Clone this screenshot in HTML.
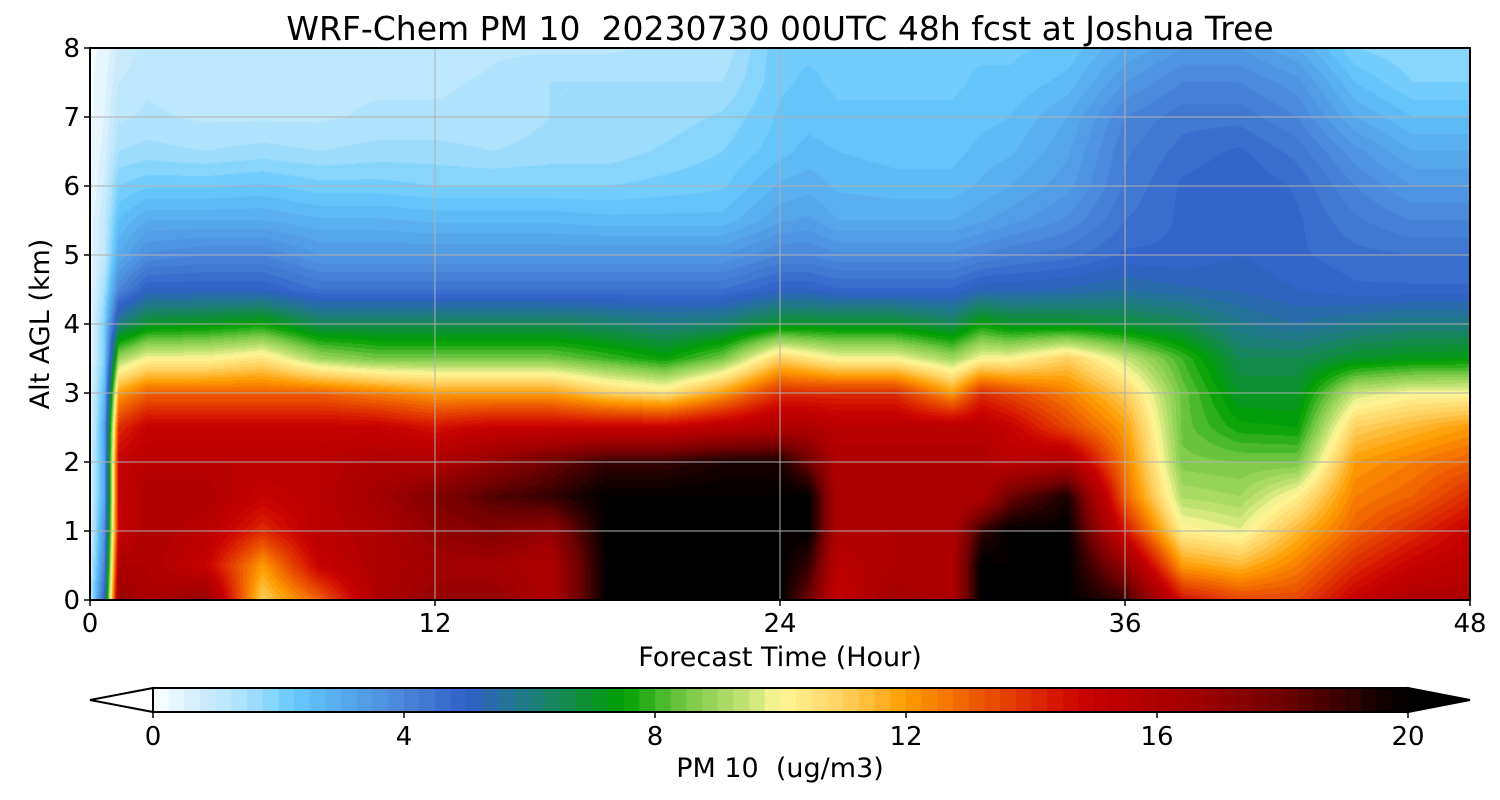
<!DOCTYPE html>
<html><head><meta charset="utf-8"><style>
body{margin:0;background:#fff;width:1500px;height:800px;overflow:hidden;position:relative;font-family:"DejaVu Sans","Liberation Sans",sans-serif}
canvas{position:absolute}
svg{position:absolute;left:0;top:0}
</style></head><body>
<canvas id="plot" width="1380" height="552" style="left:90px;top:48px"></canvas>
<canvas id="cbar" width="1255" height="24" style="left:153px;top:688px"></canvas>
<svg id="ov" width="1500" height="800"></svg>
<script>
const times=[0,0.5,1,2,4,6,8,10,12,14,16,18,20,22,24,25,26,28,30,31,32,34,36,38,40,42,44,46,48];
const heights=[0,0.5,1,1.5,2,2.5,3,3.5,4,4.5,5,5.5,6,6.5,7,7.5,8];
const pm=[
[1,0.8,0.6,0.5,0.5,0.4,0.4,0.3,0.3,0.3,0.3,0.3,0.2,0.2,0.2,0.2,0.2],
[5,4,3.5,3,3,3,2.5,2,2,1.5,1,1,0.8,0.6,0.5,0.4,0.3],
[17,16,15,15,15,14,12,9,6,4,3,2.5,2,1.5,1.2,1,0.8],
[16,16,16,16,15.5,15,13,10,7,5,3.8,3,2.2,1.6,1.3,1.2,1.1],
[17,15,15.5,16,15.5,15,13,10,7.2,5,4,3,2.2,1.5,1.2,1.1,1],
[11,12,14,15,15.5,15,13,10.5,7.5,5,4,3,2.3,1.6,1.2,1.2,1.1],
[13,15,15.5,15.5,15.5,15,13,9,6.5,4.5,3.5,2.8,2.1,1.5,1.2,1.2,1],
[16,16,16,16.5,16,15,12.5,8.5,6.5,4.5,3.5,2.8,2.1,1.6,1.3,1.2,1],
[17,16.5,17,17.5,16,14.5,12,8.5,6.5,4.5,3.5,2.7,2,1.6,1.3,1.2,1],
[17,16.5,17.5,18.5,17,15,12,8.5,6.5,4.5,3.5,2.7,2,1.5,1.3,1.3,1.2],
[16,16,17,19,18,15,12,8.5,6.5,4.5,3.5,2.7,2,1.6,1.5,1.5,1.2],
[20,20,20,20,19,15,11,8,6.3,4.5,3.5,2.6,2,1.6,1.5,1.5,1.2],
[20,20,20,20,19,15,10.5,7.5,6,4.5,3.5,2.6,2.1,1.8,1.6,1.5,1.3],
[20,20,20,20,19.5,15.5,12,8.5,6.2,4.5,3.5,2.6,2.2,2,1.8,1.5,1.3],
[20,20,20,20,19.5,16,14,11,7,5,4,3.2,2.8,2.4,2.3,2.2,2.2],
[18,19,20,20,18,16,14,10.5,7,5,4,3.3,2.9,2.6,2.4,2.3,2.2],
[15,15.5,16,16,16,15.5,14,10,7,4.8,3.8,3,2.7,2.5,2.3,2.2,2.2],
[16.5,16,16,16,16,15.5,14,10,7,4.8,3.8,3,2.6,2.4,2.3,2.2,2.2],
[16,16,16,16,16,15.5,12,9,6.5,4.8,3.8,3,2.6,2.4,2.3,2.2,2.2],
[20,20,19,16,16,15.5,14,10,7.5,5.2,4,3.2,2.8,2.6,2.4,2.3,2.2],
[20,20,20,18,15.5,15,13.5,10,7,5.2,4.2,3.4,3,2.7,2.5,2.3,2.2],
[20,20,20,19.5,16,13.5,12.5,11,7,5.3,4.4,3.8,3.4,3.2,3,2.6,2.3],
[19,17,14.5,13,12.5,12,11,9.5,6.8,5.5,4.8,4.5,4.3,4.2,4,3.5,3],
[14.5,12,10.2,9.2,8.6,8.4,8.4,8,6.5,5.3,4.8,4.8,4.8,4.6,4.4,4,3.5],
[13.5,11.5,9.8,9,8.5,7.6,7,6.5,5.8,5.2,5,5,5,4.8,4.4,4,3.5],
[13.5,12.5,11.5,10.2,8.5,7.5,7,6.5,5.5,5,4.8,4.8,4.7,4.4,4,3.6,3],
[15,14,13,12.5,12,11,9.5,7,5.8,4.8,4.6,4.3,4,3.6,3,2.5,2],
[16,15,14,13,12.5,11.5,10,7.2,6,4.8,4.5,4,3.5,3,2.5,2,1.8],
[16,15.5,15,14,13,12,10,7.3,6,4.8,4.5,4,3.5,3,2.5,2,1.8]];
const xTicks=[0,12,24,36,48];
const yTicks=[0,1,2,3,4,5,6,7,8];
const cbTicks=[0,4,8,12,16,20];
const cmapV=[0,0.6,1.5,2.3,3,4,5,6,7.5,8.5,9.5,10,11,12,13,14.5,15,16.5,18,19.5,20];
const cmapC=["#ffffff","#d8f0fc","#a8e0fc","#64c8fc","#58aaec","#4a86d8","#3060c8","#1e7c80","#00a000","#78c848","#c8e478","#fff898","#ffd060","#ff9c00","#f06000","#d41000","#c40000","#a40000","#700000","#180000","#000000"];
function hex(c){return [parseInt(c.slice(1,3),16),parseInt(c.slice(3,5),16),parseInt(c.slice(5,7),16)];}
const cm=cmapC.map(hex);
function color(v){v=Math.max(0,Math.min(20,Math.floor(v*4)/4+0.125));
 for(let i=0;i<cmapV.length-1;i++){if(v<=cmapV[i+1]){const f=(v-cmapV[i])/(cmapV[i+1]-cmapV[i]);return cm[i].map((a,k)=>Math.round(a+(cm[i+1][k]-a)*f));}}return cm[cm.length-1];}
const X0=90,X1=1470,Y0=600,Y1=48;
const sx=t=>X0+(t/48)*(X1-X0), sy=h=>Y0-(h/8)*(Y0-Y1);
function idx(arr,v){for(let i=0;i<arr.length-1;i++)if(v<=arr[i+1])return [i,(v-arr[i])/(arr[i+1]-arr[i])];return [arr.length-2,1];}
function val(t,h){const [i,ft]=idx(times,t),[j,fh]=idx(heights,h);
 const a=pm[i][j],b=pm[i+1][j],c=pm[i][j+1],d=pm[i+1][j+1];
 return a*(1-ft)*(1-fh)+b*ft*(1-fh)+c*(1-ft)*fh+d*ft*fh;}
const pc=document.getElementById('plot'),ctx=pc.getContext('2d');
const W=pc.width,H=pc.height,img=ctx.createImageData(W,H);
for(let y=0;y<H;y++){const h=8*(1-(y+0.5)/H);for(let x=0;x<W;x++){const t=48*(x+0.5)/W;const c=color(val(t,h));const p=(y*W+x)*4;img.data[p]=c[0];img.data[p+1]=c[1];img.data[p+2]=c[2];img.data[p+3]=255;}}
ctx.putImageData(img,0,0);
const cb=document.getElementById('cbar'),cx=cb.getContext('2d');
for(let k=0;k<80;k++){const c=color(k*0.25);cx.fillStyle=`rgb(${c})`;cx.fillRect(k*1255/80,0,1255/80+1,24);}
const svg=document.getElementById('ov');const NS='http://www.w3.org/2000/svg';
function el(tag,attrs,parent){const e=document.createElementNS(NS,tag);for(const k in attrs)e.setAttribute(k,attrs[k]);(parent||svg).appendChild(e);return e;}
function txt(s,attrs){const e=el('text',attrs);e.textContent=s;return e;}
xTicks.forEach(t=>{const g=el('line',{x1:sx(t),x2:sx(t),y1:Y1,y2:Y0,stroke:'#b0b0b0','stroke-width':1});


el('line',{x1:sx(t),x2:sx(t),y1:Y0,y2:Y0+6,stroke:'#000','stroke-width':1.5});
const l=txt(t,{x:sx(t),y:632,'font-size':26,'text-anchor':'middle'});

});
yTicks.forEach(h=>{const g=el('line',{x1:X0,x2:X1,y1:sy(h),y2:sy(h),stroke:'#b0b0b0','stroke-width':1});


el('line',{x1:X0-6,x2:X0,y1:sy(h),y2:sy(h),stroke:'#000','stroke-width':1.5});
const l=txt(h,{x:X0-10,y:sy(h)+9,'font-size':26,'text-anchor':'end'});

});
el('rect',{x:X0,y:Y1,width:X1-X0,height:Y0-Y1,fill:'none',stroke:'#000','stroke-width':2});
const cs=v=>153+v/20*1255;
el('polygon',{points:'153,688 90,700 153,712',fill:'#fff',stroke:'#000','stroke-width':2});
el('polygon',{points:'1408,688 1470,700 1408,712',fill:'#000',stroke:'#000','stroke-width':2});
el('rect',{x:153,y:688,width:1255,height:24,fill:'none',stroke:'#000','stroke-width':2});
cbTicks.forEach(v=>{el('line',{x1:cs(v),x2:cs(v),y1:712,y2:718,stroke:'#000','stroke-width':1.5});
const l=txt(v,{x:cs(v),y:745,'font-size':26,'text-anchor':'middle'});

});
</script>
<svg width="1500" height="800" style="position:absolute;left:0;top:0;pointer-events:none">
<text x="780" y="40" font-size="33" text-anchor="middle" xml:space="preserve">WRF-Chem PM 10  20230730 00UTC 48h fcst at Joshua Tree</text>
<text x="780" y="666" font-size="27" text-anchor="middle">Forecast Time (Hour)</text>
<text x="49" y="324" font-size="27" text-anchor="middle" transform="rotate(-90 49 324)">Alt AGL (km)</text>
<text x="780" y="777" font-size="27" text-anchor="middle" xml:space="preserve">PM 10  (ug/m3)</text>
</svg>
</body></html>
